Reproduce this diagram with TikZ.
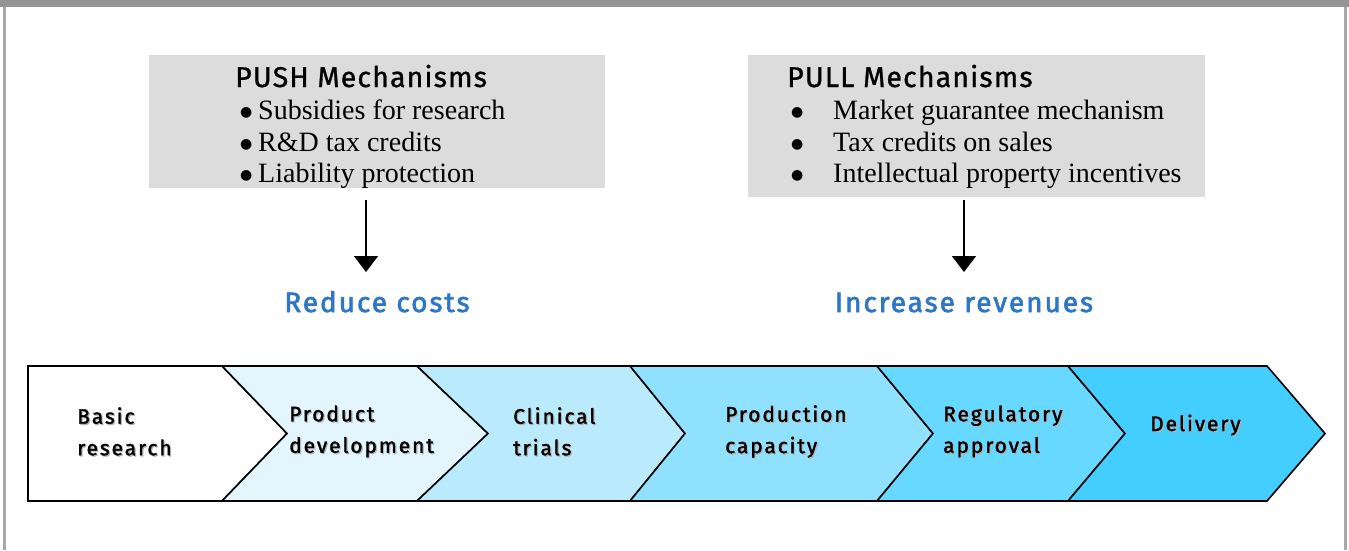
\documentclass[tikz,border=0pt]{standalone}
\usepackage{fontspec}
\setmainfont{Liberation Serif}
\newfontfamily\hsansmed{Fira Sans}[FakeBold=1.0]
\newfontfamily\hsanssemi{Fira Sans}[FakeBold=1.5]
\newfontfamily\hsansbold{Fira Sans}[FakeBold=2.2]
\newfontfamily\djv{DejaVu Sans}
\usetikzlibrary{arrows.meta}
\definecolor{boxgray}{HTML}{DCDCDC}
\definecolor{framegray}{HTML}{959595}
\definecolor{sidegray}{HTML}{A8A8A8}
\definecolor{blueT}{HTML}{2F76C6}
\definecolor{cA}{HTML}{FFFFFF}
\definecolor{cB}{HTML}{E4F6FD}
\definecolor{cC}{HTML}{BAEBFD}
\definecolor{cD}{HTML}{90E1FE}
\definecolor{cE}{HTML}{67D8FF}
\definecolor{cF}{HTML}{44CEFF}
\newcommand{\shd}[1]{\makebox[0pt][l]{\raisebox{-1.2pt}{\hspace{1.2pt}\textcolor{black!30}{#1}}}#1}
\newcommand{\bigbul}{\raisebox{2.5pt}{\djv\fontsize{14}{14}\selectfont ●}}
\tikzset{
  chev/.style={draw=black, line width=1.6pt, line join=miter},
  stagelbl/.style={font=\hsanssemi\fontsize{21}{31.5}\selectfont\addfontfeatures{LetterSpace=9}, align=left, inner sep=0pt, anchor=west},
  mechbox/.style={fill=boxgray, draw=none, anchor=north west, inner sep=0pt},
  mtitle/.style={font=\hsansmed\fontsize{28.5}{30}\selectfont\addfontfeatures{LetterSpace=4}, anchor=base west, inner sep=0pt},
  mitem/.style={font=\fontsize{28}{32}\selectfont, anchor=base west, inner sep=0pt},
  effect/.style={font=\hsansbold\fontsize{28}{30}\selectfont\addfontfeatures{LetterSpace=7}, text=blueT, anchor=base, inner sep=0pt},
  downarrow/.style={line width=1.5pt, -{Triangle[width=24pt,length=16pt]}}
}
\begin{document}
\begin{tikzpicture}[x=1pt,y=-1pt]
\useasboundingbox (0,0) rectangle (1349,550);
% frame
\fill[white] (0,0) rectangle (1349,550);
\fill[framegray] (0,0) rectangle (1349,7);
\fill[sidegray] (3,7) rectangle (5.5,550);
\fill[sidegray] (1344,7) rectangle (1346.5,550);
% mechanism boxes
\node[mechbox, minimum width=456pt, minimum height=133pt] (pushbox) at (149,55) {};
\node[mechbox, minimum width=457pt, minimum height=142pt] (pullbox) at (748,55) {};
\node[mtitle] (pusht) at (235,87) {PUSH Mechanisms};
\node[mitem] (push1) at (240,119) {\makebox[18pt][l]{\bigbul}Subsidies for research};
\node[mitem] (push2) at (240,151) {\makebox[18pt][l]{\bigbul}R\&D tax credits};
\node[mitem] (push3) at (240,182) {\makebox[18pt][l]{\bigbul}Liability protection};
\node[mtitle] (pullt) at (787,87) {PULL Mechanisms};
\node[mitem] (pull1) at (791,119) {\makebox[42pt][l]{\bigbul}Market guarantee mechanism};
\node[mitem] (pull2) at (791,151) {\makebox[42pt][l]{\bigbul}Tax credits on sales};
\node[mitem] (pull3) at (791,182) {\makebox[42pt][l]{\bigbul}Intellectual property incentives};
% arrows and effects
\coordinate (pushs) at (366,200);
\coordinate (pushe) at (366,272);
\coordinate (pulls) at (964,200);
\coordinate (pulle) at (964,272);
\draw[downarrow] (pushs) -- (pushe);
\draw[downarrow] (pulls) -- (pulle);
\node[effect] (reduce) at (377,312) {Reduce costs};
\node[effect] (increase) at (964,312) {Increase revenues};
% chevrons
\path[chev, fill=cA] (28,366) -- (222,366) -- (287,433.5) -- (222,501) -- (28,501) -- cycle;
\path[chev, fill=cB] (222,366) -- (417,366) -- (488,433.5) -- (417,501) -- (222,501) -- (287,433.5) -- cycle;
\path[chev, fill=cC] (417,366) -- (630,366) -- (685,433.5) -- (630,501) -- (417,501) -- (488,433.5) -- cycle;
\path[chev, fill=cD] (630,366) -- (877,366) -- (933,433.5) -- (877,501) -- (630,501) -- (685,433.5) -- cycle;
\path[chev, fill=cE] (877,366) -- (1068,366) -- (1125,433.5) -- (1068,501) -- (877,501) -- (933,433.5) -- cycle;
\path[chev, fill=cF] (1068,366) -- (1267,366) -- (1325,433.5) -- (1267,501) -- (1068,501) -- (1125,433.5) -- cycle;
\node[stagelbl] (s1) at (77,432) {\shd{Basic}\\\shd{research}};
\node[stagelbl] (s2) at (289,432) {\shd{Product}\\\shd{development}};
\node[stagelbl] (s3) at (513,432) {\shd{Clinical}\\\shd{trials}};
\node[stagelbl] (s4) at (725,432) {\shd{Production}\\\shd{capacity}};
\node[stagelbl] (s5) at (943,432) {\shd{Regulatory}\\\shd{approval}};
\node[stagelbl, anchor=base west] (s6) at (1150,431) {\shd{Delivery}};
\end{tikzpicture}
\end{document}
